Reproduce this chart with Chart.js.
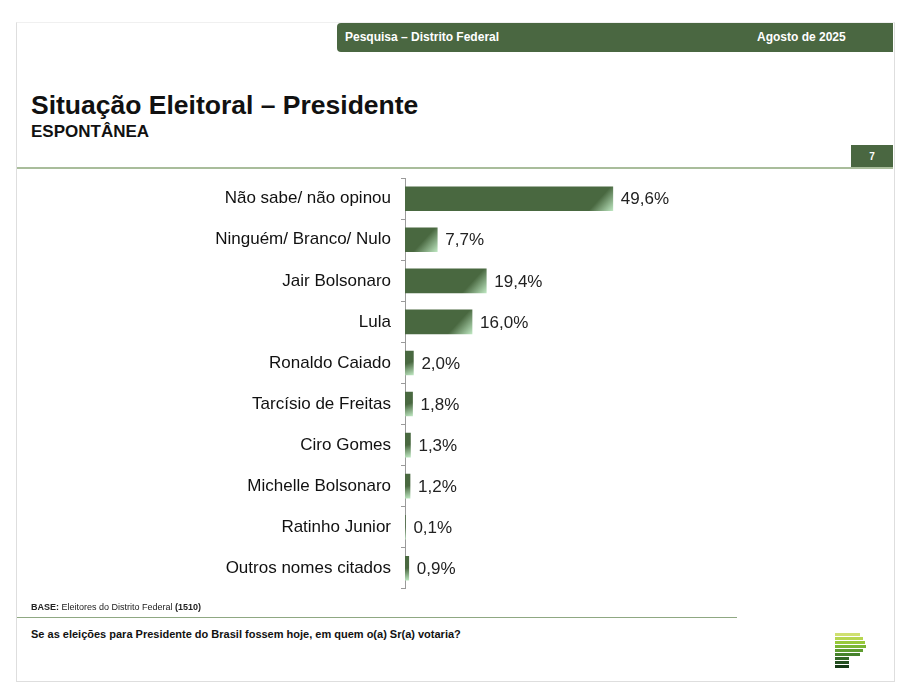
<!DOCTYPE html>
<html>
<head>
<meta charset="utf-8">
<script src="https://cdn.jsdelivr.net/npm/chart.js@4"></script>
<style>
  body { margin: 0; background: #fff; font-family: "Liberation Sans", Arial, sans-serif; }
  #page { position: absolute; left: 16px; top: 22px; width: 877px; height: 658px; border: 1px solid #dedede; border-top-color: #f0f0f0; }
  #header { position: absolute; left: 337px; top: 23px; width: 556px; height: 29px; background: #4a6741; border-radius: 4px 0 0 4px; color: #fff; font-weight: bold; font-size: 12px; }
  #header .l { position: absolute; left: 8px; top: 7px; }
  #header .r { position: absolute; left: 420px; top: 7px; }
  #title { position: absolute; left: 31px; top: 90px; font-size: 26.5px; font-weight: bold; color: #111; }
  #sub { position: absolute; left: 31px; top: 122px; font-size: 17px; font-weight: bold; color: #111; }
  #pnum { position: absolute; left: 851px; top: 145px; width: 42px; height: 23px; background: #4a6741; color: #fff; font-weight: bold; font-size: 10px; text-align: center; line-height: 24px; }
  #topline { position: absolute; left: 17px; top: 167px; width: 876px; height: 2px; background: #a9bd9b; }
  #chartbox { position: absolute; left: 17px; top: 158px; width: 807px; height: 451px; }
  #base { position: absolute; left: 31px; top: 602px; font-size: 9px; color: #222; }
  #botline { position: absolute; left: 17px; top: 617px; width: 720px; height: 1px; background: #8fa882; }
  #question { position: absolute; left: 31px; top: 628px; font-size: 11px; font-weight: bold; color: #111; }
  #logo { position: absolute; left: 835px; top: 633px; }
  #logo div { height: 3px; margin-bottom: 1px; }
</style>
</head>
<body>
<div id="page"></div>
<div id="header"><span class="l">Pesquisa – Distrito Federal</span><span class="r">Agosto de 2025</span></div>
<div id="title">Situação Eleitoral – Presidente</div>
<div id="sub">ESPONTÂNEA</div>
<div id="pnum">7</div>
<div id="topline"></div>
<div id="chartbox"><canvas id="myChart"></canvas></div>
<div id="base"><b>BASE:</b> Eleitores do Distrito Federal <b>(1510)</b></div>
<div id="botline"></div>
<div id="question">Se as eleições para Presidente do Brasil fossem hoje, em quem o(a) Sr(a) votaria?</div>
<div id="logo">
  <div style="width:25px;background:#cfe070"></div>
  <div style="width:28px;background:#b6d650"></div>
  <div style="width:30px;background:#97c83a"></div>
  <div style="width:31px;background:#7ab633"></div>
  <div style="width:28px;background:#5e9c30"></div>
  <div style="width:25px;background:#46822c"></div>
  <div style="width:14px;background:#336726"></div>
  <div style="width:14px;background:#234f1f"></div>
  <div style="width:14px;background:#163a16"></div>
</div>

<script>
// Data
var categories = [
    "Não sabe/ não opinou",
    "Ninguém/ Branco/ Nulo",
    "Jair Bolsonaro",
    "Lula",
    "Ronaldo Caiado",
    "Tarcísio de Freitas",
    "Ciro Gomes",
    "Michelle Bolsonaro",
    "Ratinho Junior",
    "Outros nomes citados"
];
var values = [49.6, 7.7, 19.4, 16.0, 2.0, 1.8, 1.3, 1.2, 0.1, 0.9];

var darkGreen = "#496840";
var lightGreen = "#bde6c0";

// gradient for each bar, dark with a light corner at bottom-right
function barColor(context) {
    var chart = context.chart;
    if (!chart.chartArea || !chart.scales.x) {
        return darkGreen;
    }
    var x0 = chart.scales.x.getPixelForValue(0);
    var x1 = chart.scales.x.getPixelForValue(values[context.dataIndex]);
    var yc = chart.scales.y.getPixelForValue(context.dataIndex);
    var w = x1 - x0;
    var g = chart.ctx.createLinearGradient(x1 - Math.min(24, w), yc - 10, x1, yc + 12);
    g.addColorStop(0, darkGreen);
    g.addColorStop(0.45, darkGreen);
    g.addColorStop(1, lightGreen);
    return g;
}

// draws the value next to every bar
var valueLabels = {
    id: 'valueLabels',
    afterDatasetsDraw: function(chart) {
        var ctx = chart.ctx;
        var meta = chart.getDatasetMeta(0);
        ctx.save();
        ctx.font = '17px "Liberation Sans", Arial, sans-serif';
        ctx.fillStyle = '#222';
        ctx.textBaseline = 'middle';
        ctx.textAlign = 'left';
        meta.data.forEach(function(bar, i) {
            var txt = values[i].toFixed(1).replace('.', ',') + '%';
            ctx.fillText(txt, bar.x + 8, bar.y + 1);
        });
        ctx.restore();
    }
};

var ctx = document.getElementById('myChart').getContext('2d');
var myChart = new Chart(ctx, {
    type: 'bar',
    data: {
        labels: categories,
        datasets: [{
            data: values,
            backgroundColor: barColor,
            barThickness: 24
        }]
    },
    options: {
        indexAxis: 'y',
        responsive: true,
        maintainAspectRatio: false,
        animation: false,
        layout: { padding: 0 },
        plugins: {
            legend: { display: false },
            tooltip: { enabled: false }
        },
        scales: {
            x: {
                display: false,
                min: 0,
                max: 100
            },
            y: {
                afterFit: function(scale) {
                    scale.width = 388;
                },
                grid: {
                    offset: true,
                    drawOnChartArea: false,
                    drawTicks: true,
                    tickLength: 4,
                    color: '#9a9a9a'
                },
                border: {
                    display: true,
                    color: '#9a9a9a'
                },
                ticks: {
                    padding: 10,
                    color: '#111',
                    font: { family: '"Liberation Sans", Arial, sans-serif', size: 17 }
                }
            }
        }
    },
    plugins: [valueLabels]
});
</script>
</body>
</html>
